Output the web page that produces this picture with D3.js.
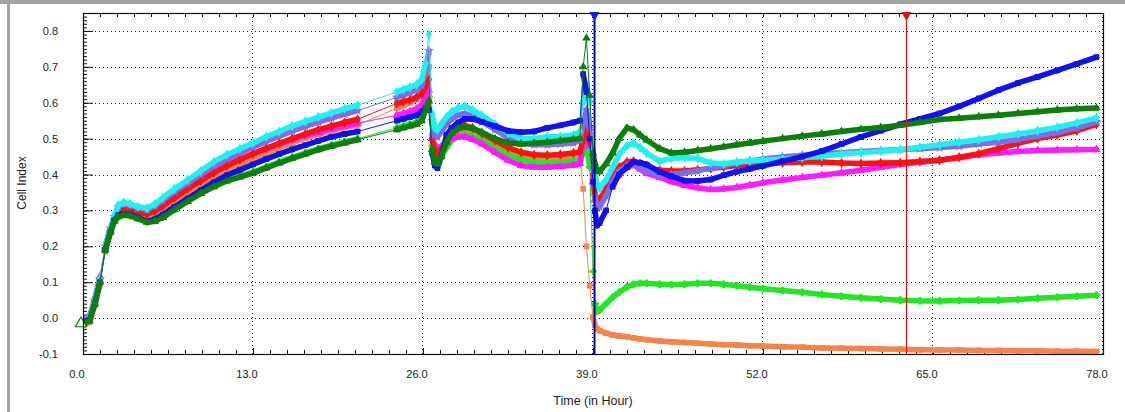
<!DOCTYPE html>
<html>
<head>
<meta charset="utf-8">
<script src="https://cdn.jsdelivr.net/npm/d3@7"></script>
<style>
  html, body { margin: 0; padding: 0; background: #fff; }
  svg { display: block; }
  text { font-family: "Liberation Sans", Arial, sans-serif; fill: #222; }
</style>
</head>
<body>
<svg id="chart" width="1125" height="412"></svg>
<script>
// Sampling times (hours) shared by every well
const hours = [
  0, 0.5, 0.9, 1.3, 1.7, 2.1, 2.4, 2.7, 3.1, 3.6, 4.2, 4.9, 5.5, 6.1,
  7, 8, 9, 10, 11, 12, 13, 14, 15, 16, 17, 18, 19, 20, 21,
  24, 24.5, 25, 25.5, 25.9,
  26.2, 26.45, 26.7, 26.9, 27.1, 27.4, 27.8, 28.2, 28.7, 29.2, 29.8, 30.5,
  31.5, 32.5, 33.5, 34.5, 35.5, 36.5, 37.5,
  38.0, 38.25, 38.5, 38.75, 39.0, 39.15, 39.3, 39.5,
  40, 40.5, 41, 41.6, 42.1, 42.6, 43.1, 44.1, 45, 46, 47, 48, 49, 50, 51, 52,
  53.5, 55, 56.5, 58, 59.5, 61, 62.5, 64, 65.5, 67, 68.5, 70, 71.5, 73, 74.5, 76, 77.5
];

// Cell Index per well
const cyanWell = [
  -0.01, 0.0, 0.05, 0.11, 0.2, 0.25, 0.285, 0.315, 0.322, 0.318, 0.31, 0.306, 0.318, 0.335,
  0.36, 0.385, 0.41, 0.435, 0.455, 0.472, 0.488, 0.505, 0.52, 0.535, 0.548, 0.56, 0.572, 0.583, 0.593,
  0.63, 0.637, 0.643, 0.65, 0.665,
  0.71, 0.79, 0.57, 0.53, 0.525, 0.54, 0.56, 0.575, 0.585, 0.59, 0.58, 0.565,
  0.54, 0.515, 0.5, 0.5, 0.505, 0.505, 0.51,
  0.52, 0.6, 0.65, 0.6, 0.47, 0.4, 0.375, 0.362,
  0.385, 0.42, 0.455, 0.48, 0.487, 0.475, 0.46, 0.437, 0.445, 0.447, 0.445, 0.432, 0.43, 0.435, 0.438, 0.44,
  0.443, 0.447, 0.451, 0.457, 0.461, 0.465, 0.47, 0.476, 0.483, 0.49, 0.497, 0.505, 0.513, 0.522, 0.532, 0.544, 0.558
];
const purpleWell = [
  -0.01, 0.0, 0.05, 0.11, 0.2, 0.25, 0.283, 0.31, 0.318, 0.315, 0.307, 0.302, 0.312, 0.328,
  0.352, 0.376, 0.4, 0.423, 0.443, 0.46, 0.476, 0.492, 0.507, 0.521, 0.534, 0.546, 0.557, 0.568, 0.578,
  0.615, 0.622, 0.628, 0.636, 0.648,
  0.69, 0.745, 0.55, 0.51, 0.505, 0.52, 0.54, 0.555, 0.566, 0.57, 0.562, 0.548,
  0.525, 0.503, 0.488, 0.483, 0.483, 0.485, 0.488,
  0.495, 0.545, 0.58, 0.53, 0.42, 0.34, 0.306, 0.31,
  0.34, 0.38, 0.41, 0.425, 0.43, 0.42, 0.41, 0.398, 0.4, 0.405, 0.41, 0.418, 0.425, 0.432, 0.438, 0.443,
  0.449, 0.454, 0.458, 0.461, 0.464, 0.467, 0.47, 0.472, 0.475, 0.479, 0.485, 0.49, 0.498, 0.507, 0.517, 0.53, 0.547
];
const redWell = [
  -0.012, -0.003, 0.045, 0.105, 0.195, 0.245, 0.278, 0.3, 0.306, 0.303, 0.295, 0.29, 0.298, 0.312,
  0.335, 0.36, 0.383, 0.405, 0.424, 0.442, 0.458, 0.473, 0.487, 0.5, 0.513, 0.525, 0.535, 0.545, 0.554,
  0.598, 0.603, 0.608, 0.615, 0.625,
  0.645, 0.665, 0.5, 0.465, 0.458, 0.47, 0.495, 0.515, 0.53, 0.537, 0.53, 0.515,
  0.495, 0.475, 0.462, 0.455, 0.454, 0.456, 0.46,
  0.463, 0.5, 0.53, 0.49, 0.4, 0.345, 0.324, 0.33,
  0.36, 0.395, 0.42, 0.435, 0.437, 0.43, 0.42, 0.412, 0.41, 0.41, 0.413, 0.417, 0.421, 0.425, 0.428, 0.43,
  0.433, 0.435, 0.435, 0.432, 0.431, 0.432, 0.433, 0.436, 0.44, 0.448, 0.458, 0.472, 0.487, 0.5, 0.51, 0.522, 0.54
];
const magentaWell = [
  -0.005, 0.005, 0.055, 0.115, 0.2, 0.25, 0.282, 0.303, 0.31, 0.308, 0.302, 0.298, 0.305, 0.318,
  0.34, 0.363, 0.386, 0.408, 0.427, 0.443, 0.458, 0.472, 0.485, 0.497, 0.508, 0.518, 0.527, 0.535, 0.543,
  0.565, 0.57, 0.576, 0.583, 0.595,
  0.62, 0.635, 0.5, 0.48, 0.475, 0.478, 0.49, 0.5, 0.505, 0.505, 0.498, 0.485,
  0.462, 0.44, 0.425, 0.42, 0.42, 0.423, 0.426,
  0.43, 0.49, 0.54, 0.48, 0.38, 0.33, 0.31, 0.32,
  0.355, 0.39, 0.41, 0.42, 0.426, 0.415, 0.403, 0.392, 0.38, 0.37, 0.363, 0.358, 0.36, 0.364, 0.37, 0.377,
  0.385, 0.392, 0.398, 0.405, 0.412, 0.42, 0.428, 0.434, 0.44, 0.447, 0.455, 0.46, 0.464, 0.467, 0.468, 0.469, 0.47
];
const orangeWell = [
  -0.02, -0.012, 0.035, 0.095, 0.185, 0.24, 0.272, 0.288, 0.292, 0.29, 0.283, 0.278, 0.285, 0.3,
  0.322, 0.346, 0.368, 0.39, 0.41, 0.428, 0.444, 0.46, 0.474, 0.488, 0.501, 0.512, 0.522, 0.531, 0.538,
  0.585, 0.592, 0.6, 0.61, 0.625,
  0.66, 0.7, 0.51, 0.475, 0.468, 0.47, 0.49, 0.505, 0.515, 0.52, 0.512, 0.5,
  0.48, 0.465, 0.455, 0.448, 0.446, 0.448, 0.45,
  0.45, 0.36, 0.2, 0.09, 0.003, -0.02, -0.03, -0.035,
  -0.042, -0.047, -0.05, -0.052, -0.055, -0.058, -0.06, -0.064, -0.066, -0.068, -0.07, -0.072, -0.074, -0.075, -0.077, -0.078,
  -0.08, -0.081, -0.083, -0.084, -0.085, -0.086, -0.087, -0.088, -0.089, -0.089, -0.09, -0.09, -0.091, -0.091, -0.092, -0.092, -0.093
];
const blueWell = [
  -0.01, -0.005, 0.04, 0.1, 0.19, 0.24, 0.272, 0.287, 0.29, 0.288, 0.28, 0.27, 0.275, 0.288,
  0.31, 0.333, 0.356, 0.378, 0.398, 0.413, 0.428, 0.443, 0.457, 0.47, 0.482, 0.494, 0.505, 0.513, 0.52,
  0.55, 0.555, 0.56, 0.565, 0.575,
  0.585, 0.58, 0.46, 0.425, 0.418, 0.45, 0.51, 0.53, 0.545, 0.555, 0.555, 0.547,
  0.535, 0.522, 0.518, 0.52, 0.53, 0.537, 0.545,
  0.55, 0.68, 0.63, 0.5, 0.38, 0.3, 0.258, 0.265,
  0.3, 0.366, 0.4, 0.42, 0.435, 0.433, 0.428, 0.407, 0.395, 0.383, 0.382, 0.386, 0.398, 0.408, 0.416, 0.424,
  0.437, 0.45, 0.465, 0.485, 0.505, 0.522, 0.54, 0.555, 0.57, 0.59, 0.612, 0.635, 0.655, 0.672, 0.69, 0.708, 0.727
];
const greenWell = [
  -0.015, -0.008, 0.04, 0.1, 0.19, 0.24, 0.27, 0.282, 0.287, 0.285, 0.277, 0.267, 0.27, 0.28,
  0.302, 0.325, 0.347, 0.366, 0.382, 0.393, 0.404, 0.418, 0.432, 0.445, 0.457, 0.469, 0.479, 0.488, 0.497,
  0.525, 0.53, 0.535, 0.54, 0.55,
  0.58, 0.605, 0.47, 0.435, 0.43, 0.45, 0.49, 0.515, 0.528, 0.532, 0.528, 0.518,
  0.5, 0.488, 0.485, 0.487, 0.49, 0.494, 0.498,
  0.5, 0.7, 0.78, 0.62, 0.46, 0.43, 0.41, 0.408,
  0.43, 0.46, 0.5, 0.53, 0.525, 0.51, 0.496, 0.472, 0.46, 0.462, 0.467, 0.472, 0.477, 0.483, 0.488, 0.493,
  0.5, 0.507, 0.513, 0.52, 0.526, 0.531, 0.537, 0.545, 0.553, 0.557, 0.561, 0.565, 0.57, 0.575, 0.58, 0.583, 0.585
];
const limeWell = [
  -0.01, -0.004, 0.042, 0.1, 0.19, 0.24, 0.27, 0.283, 0.288, 0.286, 0.278, 0.268, 0.272, 0.282,
  0.304, 0.327, 0.35, 0.369, 0.385, 0.396, 0.407, 0.421, 0.435, 0.448, 0.46, 0.472, 0.482, 0.491, 0.5,
  0.53, 0.535, 0.54, 0.546, 0.556,
  0.585, 0.615, 0.48, 0.445, 0.44, 0.45, 0.475, 0.495, 0.507, 0.512, 0.506, 0.495,
  0.475, 0.455, 0.442, 0.435, 0.433, 0.434, 0.437,
  0.44, 0.46, 0.48, 0.42, 0.13, 0.04, 0.018, 0.022,
  0.04, 0.058, 0.072, 0.087, 0.094, 0.097, 0.097, 0.094, 0.093, 0.094, 0.097, 0.097, 0.094, 0.09, 0.086, 0.082,
  0.077, 0.072, 0.066, 0.061, 0.057, 0.053, 0.05, 0.048, 0.048, 0.049, 0.05, 0.05, 0.052, 0.055, 0.058, 0.061, 0.064
];

// Axis ticks and labels
const xMajorTicks = [0, 13, 26, 39, 52, 65, 78];
const xTickLabels = ["0.0", "13.0", "26.0", "39.0", "52.0", "65.0", "78.0"];
const yMajorTicks = [-0.1, 0, 0.1, 0.2, 0.3, 0.4, 0.5, 0.6, 0.7, 0.8];
const yTickLabels = ["-0.1", "0.0", "0.1", "0.2", "0.3", "0.4", "0.5", "0.6", "0.7", "0.8"];
const yGridValues = [0, 0.1, 0.2, 0.3, 0.4, 0.5, 0.6, 0.7, 0.8];

// Time markers shown as flags along the top edge
const markerHours = [39.05, 62.9];
const markerColors = ["#0000a0", "#e01010"];

// Drawing order: last drawn ends up on top
const wells = [
  { values: orangeWell,  color: "#f5834a", symbol: d3.symbolSquare },
  { values: limeWell,    color: "#22e622", symbol: d3.symbolCross },
  { values: magentaWell, color: "#ff1aff", symbol: d3.symbolTriangle },
  { values: redWell,     color: "#ff1010", symbol: d3.symbolDiamond },
  { values: purpleWell,  color: "#7d6ee6", symbol: d3.symbolStar },
  { values: cyanWell,    color: "#1ff0f0", symbol: d3.symbolDiamond },
  { values: blueWell,    color: "#1010f0", symbol: d3.symbolSquare },
  { values: greenWell,   color: "#0a800a", symbol: d3.symbolTriangle }
];

const svg = d3.select("#chart");
const W = 1125, H = 412;
const plot = { left: 83, right: 1103, top: 13, bottom: 354 };

const x = d3.scaleLinear().domain([0, 78]).range([plot.left, plot.right]);
const y = d3.scaleLinear().domain([-0.1, 0.85]).range([plot.bottom, plot.top]);

// Panel frame
svg.append("rect").attr("x", 0).attr("y", 0).attr("width", W).attr("height", 4).attr("fill", "#a3a3a3");
svg.append("rect").attr("x", 7).attr("y", 0).attr("width", 3).attr("height", H).attr("fill", "#a3a3a3");

// Dotted grid
const grid = svg.append("g").attr("stroke", "#222").attr("stroke-width", 1).attr("stroke-dasharray", "1,3");
grid.selectAll("line.h").data(yGridValues).join("line")
  .attr("x1", plot.left).attr("x2", plot.right)
  .attr("y1", d => Math.round(y(d)) + 0.5).attr("y2", d => Math.round(y(d)) + 0.5);
grid.selectAll("line.v").data(xMajorTicks.slice(1)).join("line")
  .attr("x1", d => Math.round(x(d)) - 0.5).attr("x2", d => Math.round(x(d)) - 0.5)
  .attr("y1", plot.top).attr("y2", plot.bottom);

// Minor/major ticks via d3 axes (ticks drawn inward)
const xMinor = d3.range(0, 78.01, 1.3);
const yMinor = d3.range(-0.1, 0.851, 0.01);

const bottomMinor = d3.axisTop(x).tickValues(xMinor).tickSize(4).tickFormat("");
const bottomMajor = d3.axisTop(x).tickValues(xMajorTicks).tickSize(6).tickFormat("");
const topMinor = d3.axisBottom(x).tickValues(xMinor).tickSize(4).tickFormat("");
const leftMinor = d3.axisRight(y).tickValues(yMinor).tickSize(4).tickFormat("");
const leftMajor = d3.axisRight(y).tickValues(yMajorTicks).tickSize(10).tickFormat("");

function styleAxis(g) {
  g.select(".domain").remove();
  g.selectAll(".tick line").attr("stroke", "#111");
}
svg.append("g").attr("transform", `translate(0,${plot.bottom})`).call(bottomMinor).call(styleAxis);
svg.append("g").attr("transform", `translate(0,${plot.bottom})`).call(bottomMajor).call(styleAxis);
svg.append("g").attr("transform", `translate(0,${plot.top})`).call(topMinor).call(styleAxis);
svg.append("g").attr("transform", `translate(${plot.left},0)`).call(leftMinor).call(styleAxis);
svg.append("g").attr("transform", `translate(${plot.left},0)`).call(leftMajor).call(styleAxis);

// Tick labels
svg.append("g").selectAll("text").data(xMajorTicks).join("text")
  .attr("x", d => x(d) - 6).attr("y", 378)
  .attr("text-anchor", "middle").attr("font-size", 11)
  .text((d, i) => xTickLabels[i]);
svg.append("g").selectAll("text").data(yMajorTicks).join("text")
  .attr("x", 58).attr("y", d => y(d) + 4)
  .attr("text-anchor", "end").attr("font-size", 11)
  .text((d, i) => yTickLabels[i]);

// Axis titles
svg.append("text").attr("x", 593).attr("y", 405).attr("text-anchor", "middle")
  .attr("font-size", 12.5).text("Time (in Hour)");
svg.append("text").attr("transform", "translate(26,183) rotate(-90)")
  .attr("text-anchor", "middle").attr("font-size", 12).text("Cell Index");

// Clip for curves
svg.append("defs").append("clipPath").attr("id", "plotClip")
  .append("rect").attr("x", plot.left).attr("y", plot.top)
  .attr("width", plot.right - plot.left).attr("height", plot.bottom - plot.top);

const curves = svg.append("g").attr("clip-path", "url(#plotClip)");

wells.forEach(w => {
  const pts = hours.map((h, i) => [x(h), y(w.values[i])]);
  const g = curves.append("g");
  // Dense runs read as thick bands; long jumps are thin connectors
  const segs = [];
  for (let i = 1; i < pts.length; i++) {
    const [x0, y0] = pts[i - 1], [x1, y1] = pts[i];
    const len = Math.hypot(x1 - x0, y1 - y0);
    segs.push({ x0, y0, x1, y1, thick: len < 24 });
  }
  g.selectAll("line").data(segs).join("line")
    .attr("x1", d => d.x0).attr("y1", d => d.y0)
    .attr("x2", d => d.x1).attr("y2", d => d.y1)
    .attr("stroke", w.color)
    .attr("stroke-width", d => d.thick ? 5.5 : 1)
    .attr("stroke-linecap", "round");
  g.selectAll("path").data(pts).join("path")
    .attr("transform", d => `translate(${d[0]},${d[1]})`)
    .attr("d", d3.symbol().type(w.symbol).size(32))
    .attr("fill", w.color);
});

// Hollow start marker on the first green point
svg.append("path")
  .attr("transform", `translate(${x(hours[0]) - 2},${y(greenWell[0])})`)
  .attr("d", d3.symbol().type(d3.symbolTriangle).size(55))
  .attr("fill", "#fff").attr("stroke", "#0a800a").attr("stroke-width", 1.2);

// Plot frame
svg.append("rect").attr("x", plot.left + 0.5).attr("y", plot.top + 0.5)
  .attr("width", plot.right - plot.left).attr("height", plot.bottom - plot.top)
  .attr("fill", "none").attr("stroke", "#111").attr("stroke-width", 1.2);

// Time marker lines with flags
markerHours.forEach((h, i) => {
  const mx = Math.round(x(h)) + 0.5;
  svg.append("line").attr("x1", mx).attr("x2", mx)
    .attr("y1", plot.top).attr("y2", plot.bottom)
    .attr("stroke", markerColors[i]).attr("stroke-width", i === 0 ? 2 : 1.2);
  svg.append("path")
    .attr("d", `M${mx - 5},${plot.top - 1} L${mx + 5},${plot.top - 1} L${mx},${plot.top + 8} Z`)
    .attr("fill", i === 0 ? "#1a1ae0" : markerColors[i]);
});
</script>
</body>
</html>
